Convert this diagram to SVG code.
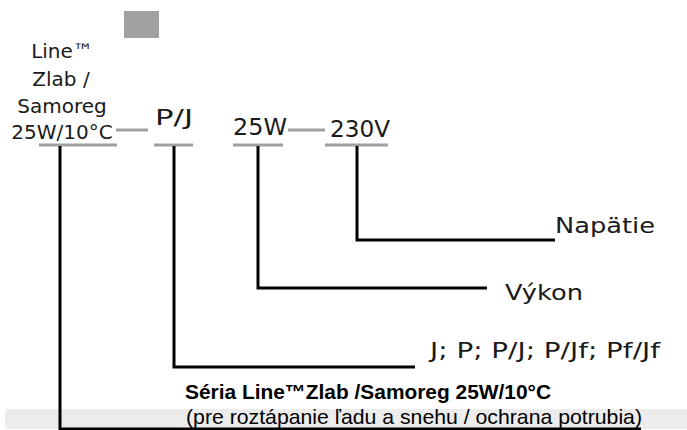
<svg xmlns="http://www.w3.org/2000/svg" width="687" height="430" viewBox="0 0 687 430">
<style>
.g{font-family:"DejaVu Sans","Liberation Sans",sans-serif;fill:#1a1a1a}
.a{font-family:"Liberation Sans",Arial,sans-serif;fill:#000}
.ul{stroke:#a0a0a0;stroke-width:3;fill:none}
.bk{stroke:#000;stroke-width:3;fill:none}
</style>
<rect x="0" y="0" width="687" height="430" fill="#fff"/>
<rect x="5" y="409" width="682" height="20" fill="#ececec"/>
<rect x="124" y="11" width="35" height="27" fill="#a0a0a0"/>
<g id="n-series">
<text class="g" font-size="20" text-anchor="middle" x="62" y="58">Line™</text>
<text class="g" font-size="20" text-anchor="middle" x="61" y="86">Zlab /</text>
<text class="g" font-size="20" text-anchor="middle" x="62" y="113">Samoreg</text>
<text class="g" font-size="20" text-anchor="middle" x="62" y="139">25W/10°C</text>
<line class="ul" x1="39" y1="145" x2="117" y2="145"/>
</g>
<g id="n-pj">
<text class="g" font-size="21" x="155" y="125" textLength="38" lengthAdjust="spacingAndGlyphs">P/J</text>
<line class="ul" x1="154" y1="145" x2="193" y2="145"/>
</g>
<g id="n-25w">
<text class="g" font-size="23" x="233" y="135" textLength="54" lengthAdjust="spacingAndGlyphs">25W</text>
<line class="ul" x1="233" y1="145" x2="283" y2="145"/>
</g>
<g id="n-230v">
<text class="g" font-size="23" x="330" y="137" textLength="60" lengthAdjust="spacingAndGlyphs">230V</text>
<line class="ul" x1="325" y1="145" x2="388" y2="145"/>
</g>
<g id="n-napatie"><text class="g" font-size="22" x="555" y="233" textLength="100" lengthAdjust="spacingAndGlyphs">Napätie</text></g>
<g id="n-vykon"><text class="g" font-size="22" x="505" y="300" textLength="78" lengthAdjust="spacingAndGlyphs">Výkon</text></g>
<g id="n-types"><text class="g" font-size="21" x="430" y="358" textLength="230" lengthAdjust="spacingAndGlyphs">J; P; P/J; P/Jf; Pf/Jf</text></g>
<g id="n-desc">
<text class="a" font-size="20" font-weight="bold" x="185" y="399" textLength="366" lengthAdjust="spacingAndGlyphs">Séria Line™Zlab /Samoreg 25W/10°C</text>
<text class="a" font-size="21" x="186" y="424" textLength="456" lengthAdjust="spacingAndGlyphs">(pre roztápanie ľadu a snehu / ochrana potrubia)</text>
</g>
<g id="connectors">
<line class="ul" x1="116" y1="130" x2="148" y2="130"/>
<line class="ul" x1="288" y1="130" x2="325" y2="130"/>
<polyline class="bk" points="357,146 357,240 555,240"/>
<polyline class="bk" points="258,146 258,288 487,288"/>
<polyline class="bk" points="174,146 174,367 415,367"/>
<polyline class="bk" points="60,146 60,429 641,429"/>
</g>
</svg>
